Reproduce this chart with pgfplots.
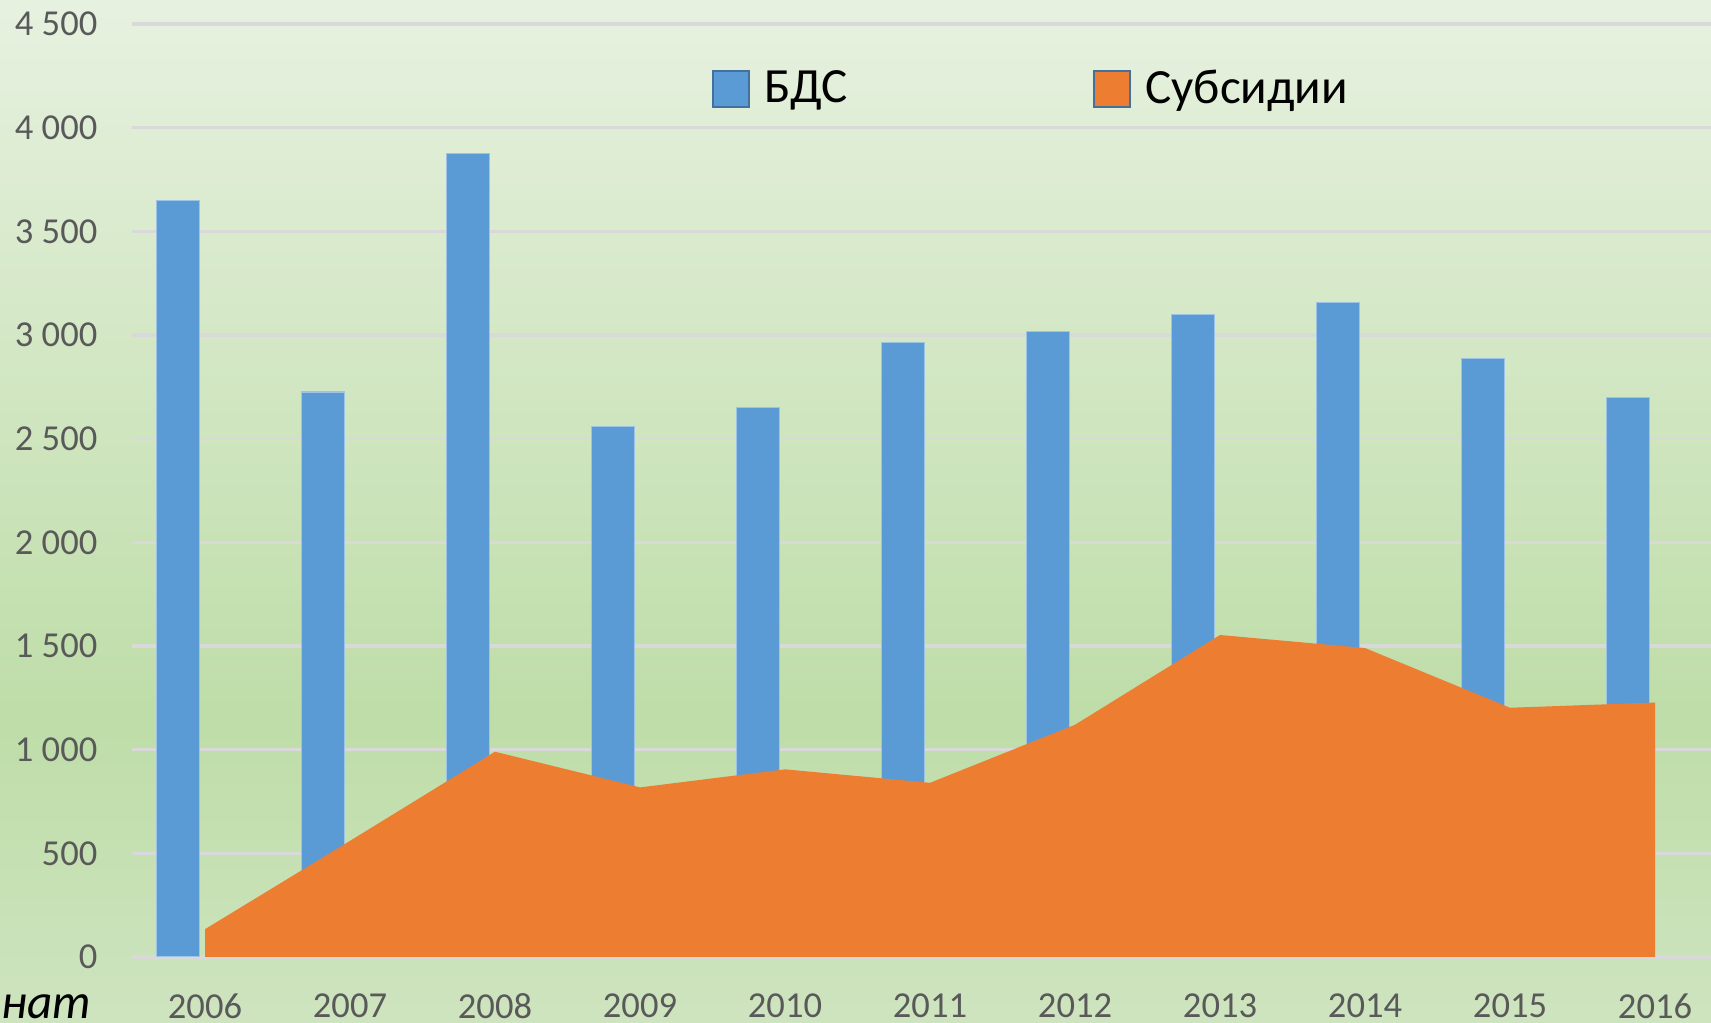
\documentclass[border=0pt]{standalone}
\usepackage{pgfplots}
\pgfplotsset{compat=1.18}
\usepackage{fontspec}
\setmainfont{Carlito}
\definecolor{barblue}{HTML}{5B9BD5}
\definecolor{areaor}{HTML}{ED7D31}
\definecolor{gridc}{HTML}{D9D9D9}
\definecolor{tickc}{HTML}{595959}
\definecolor{bgtop}{RGB}{231,241,224}
\definecolor{bgmid}{RGB}{190,221,168}
\definecolor{bgbot}{RGB}{206,228,191}
\definecolor{legborder}{HTML}{41719C}
\pgfdeclareverticalshading{bgshade}{100bp}{color(0bp)=(bgbot); color(25bp)=(bgbot); color(40bp)=(bgmid); color(75bp)=(bgtop); color(100bp)=(bgtop)}

\begin{document}
\begin{tikzpicture}
\useasboundingbox (0,0) rectangle (17.11cm,10.23cm);
\clip (0,0) rectangle (17.11cm,10.23cm);
\shade[shading=bgshade] (0,0) rectangle (17.11cm,10.23cm);
\begin{axis}[
  at={(1.325cm,0.66cm)}, anchor=south west,
  scale only axis, width=15.785cm, height=9.33cm,
  xmin=-0.5, xmax=10.386, ymin=0, ymax=4500,
  axis line style={draw=none},
  xtick={0,1,2,3,4,5,6,7,8,9,10},
  xticklabels={2006,2007,2008,2009,2010,2011,2012,2013,2014,2015,2016},
  ytick={0,500,1000,1500,2000,2500,3000,3500,4000,4500},
  yticklabels={0,500,1~000,1~500,2~000,2~500,3~000,3~500,4~000,4~500},
  major tick length=0pt,
  ymajorgrids, major grid style={gridc, line width=0.9pt},
  tick label style={font=\fontsize{10.4}{12}\selectfont, text=tickc, inner sep=0pt},
  yticklabel style={anchor=east, xshift=-0.345cm},
  xticklabel style={anchor=north, yshift=-0.36cm},
  legend columns=2,
  legend style={at={(rel axis cs:0.3665,0.9303)}, anchor=west, draw=none, fill=none,
    inner sep=0pt, font=\fontsize{14}{17}\selectfont, nodes={inner sep=0pt},
    /tikz/every odd column/.append style={column sep=0.14cm},
    /tikz/every even column/.append style={column sep=2.45cm}},
]
\addplot[ybar, bar width=0.2986, bar shift=-0.188, fill=barblue, draw=barblue!60!white, line width=0.3pt,
  legend image code/.code={\draw[fill=barblue, draw=legborder, line width=0.7pt] (0cm,-0.18cm) rectangle (0.36cm,0.18cm);}]
  coordinates {(0,3650) (1,2725) (2,3875) (3,2560) (4,2650) (5,2965) (6,3015) (7,3100) (8,3155) (9,2885) (10,2700)};
\addlegendentry{БДС}
\addplot[fill=areaor, draw=none,
  legend image code/.code={\draw[fill=areaor, draw=legborder, line width=0.7pt] (0cm,-0.18cm) rectangle (0.36cm,0.18cm);}]
  coordinates {(0,134) (1,560) (2,990) (3,818) (4,905) (5,840) (6,1120) (7,1553) (8,1490) (9,1202) (10,1227)} \closedcycle;
\addlegendentry{Субсидии}
\end{axis}
\node[anchor=base west, inner sep=0pt, font=\fontsize{14}{17}\selectfont\itshape] at (0.01cm,0.04cm) {нат};
\end{tikzpicture}
\end{document}
